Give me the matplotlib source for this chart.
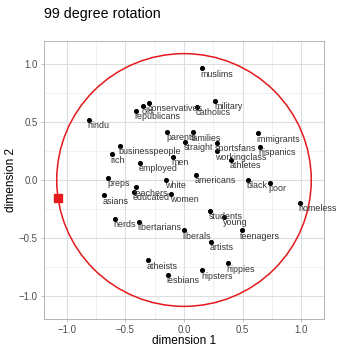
import matplotlib
matplotlib.use('Agg')
import matplotlib.pyplot as plt
from matplotlib.patches import Circle

plt.rcParams['font.family'] = ['Liberation Sans', 'DejaVu Sans']

# group positions in the rotated 2-d space
groups = ['muslims', 'military', 'catholics', 'conservatives', 'old', 'republicans',
          'hindu', 'parents', 'families', 'straight', 'sportsfans', 'workingclass',
          'athletes', 'immigrants', 'hispanics', 'businesspeople', 'rich', 'employed',
          'men', 'americans', 'black', 'poor', 'homeless', 'white', 'women',
          'teachers', 'educated', 'preps', 'asians', 'nerds', 'libertarians',
          'liberals', 'atheists', 'lesbians', 'students', 'young', 'teenagers',
          'artists', 'hippies', 'hipsters']
dim1 = [0.150, 0.267, 0.113, -0.295, -0.346, -0.409,
        -0.809, -0.142, 0.074, 0.011, 0.278, 0.278,
        0.397, 0.630, 0.644, -0.545, -0.616, -0.374,
        -0.096, 0.102, 0.547, 0.732, 0.987, -0.153, -0.108,
        -0.411, -0.426, -0.644, -0.681, -0.590, -0.383,
        -0.003, -0.309, -0.139, 0.221, 0.343, 0.491,
        0.230, 0.377, 0.156]
dim2 = [0.960, 0.680, 0.629, 0.661, 0.635, 0.595,
        0.519, 0.414, 0.411, 0.326, 0.317, 0.247,
        0.176, 0.400, 0.283, 0.292, 0.221, 0.147,
        0.198, 0.045, 0.000, -0.023, -0.198, 0.000, -0.119,
        -0.062, -0.099, 0.017, -0.133, -0.332, -0.357,
        -0.431, -0.691, -0.814, -0.266, -0.317, -0.431,
        -0.530, -0.714, -0.777]

# reference circle and the rotated axis marker
radius = 1.085
marker_x = -1.077
marker_y = -0.156

ticks = [-1.0, -0.5, 0.0, 0.5, 1.0]
minor_ticks = [-0.75, -0.25, 0.25, 0.75]
lim = 1.1 * radius

fig = plt.figure(figsize=(3.37, 3.46), dpi=100)
ax = fig.add_axes([44 / 337, 27 / 346, 280 / 337, 278 / 346])

ax.set_xlim(-lim, lim)
ax.set_ylim(-lim, lim)

# light theme grid
for t in minor_ticks:
    ax.axvline(t, color='#ebebeb', lw=0.5, zorder=0)
    ax.axhline(t, color='#ebebeb', lw=0.5, zorder=0)
for t in ticks:
    ax.axvline(t, color='#dedede', lw=0.8, zorder=0)
    ax.axhline(t, color='#dedede', lw=0.8, zorder=0)

ax.add_patch(Circle((0, 0), radius, fill=False, ec='#e41a1c', lw=1.1, zorder=2))
ax.scatter([marker_x], [marker_y], marker='s', s=32, color='#e41a1c', zorder=3)

ax.scatter(dim1, dim2, s=7, color='black', zorder=4)
for name, x, y in zip(groups, dim1, dim2):
    ax.annotate(name, (x, y), xytext=(-1, -1), textcoords='offset points',
                ha='left', va='top', fontsize=6.4, color='#333333', zorder=5)

ax.set_xticks(ticks)
ax.set_yticks(ticks)
ax.set_xticklabels(['\u22121.0', '\u22120.5', '0.0', '0.5', '1.0'])
ax.set_yticklabels(['\u22121.0', '\u22120.5', '0.0', '0.5', '1.0'])
ax.tick_params(length=2.5, width=0.6, color='#b3b3b3', labelsize=6.9,
               labelcolor='#4d4d4d', pad=2)
for s in ax.spines.values():
    s.set_color('#b3b3b3')
    s.set_linewidth(0.7)

ax.set_xlabel('dimension 1', fontsize=8.6, labelpad=0)
ax.set_ylabel('dimension 2', fontsize=8.6, labelpad=1)
fig.text(44 / 337, 1 - 18 / 346, '99 degree rotation', fontsize=10.3, ha='left', va='baseline')

fig.savefig('out.png', dpi=100)
